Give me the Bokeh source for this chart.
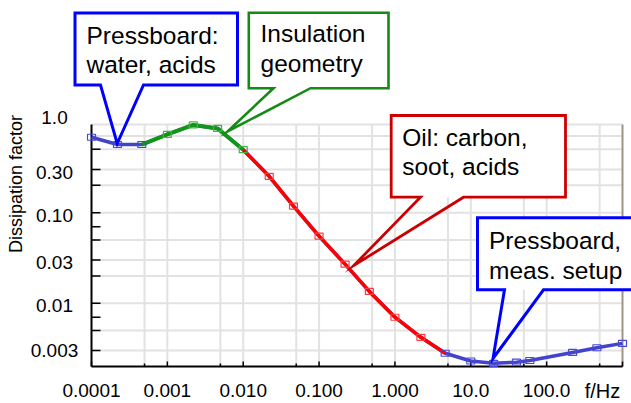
import math
from bokeh.plotting import figure
from bokeh.models import Range1d, Label, PolyAnnotation, ColumnDataSource, LogScale
from bokeh.embed import file_html
from bokeh.resources import INLINE

# ---------------- data ----------------
freq_hz = [1e-4, 2.2e-4, 4.6e-4, 1e-3, 2.2e-3, 4.6e-3, 1e-2, 2.2e-2, 4.6e-2, 0.1, 0.22,
           0.46, 1.0, 2.2, 4.6, 10.0, 20.0, 40.0, 60.0, 220.0, 460.0, 1000.0]
diss_factor = [0.68, 0.565, 0.565, 0.73, 0.93, 0.85, 0.495, 0.252, 0.118, 0.055, 0.027,
               0.0135, 0.007, 0.0042, 0.0028, 0.0023, 0.00217, 0.00223, 0.00233, 0.00286,
               0.00322, 0.0036]
# which physical effect dominates each point
region = ["pressboard"] * 3 + ["geometry"] * 4 + ["oil"] * 7 + ["pressboard"] * 8
geometry_idx = (2, 6)   # green segment, first/last point index
oil_idx = (6, 14)       # red segment, first/last point index

x_tick_values = [1e-4, 1e-3, 1e-2, 0.1, 1.0, 10.0, 100.0]
x_tick_text = ["0.0001", "0.001", "0.010", "0.100", "1.000", "10.0", "100.0"]
x_major_ticks = [1e-4, 1e-3, 1e-2, 0.1, 1.0, 10.0, 100.0, 1000.0]
x_minor_ticks = [5e-4, 5e-3, 5e-2, 0.5, 5.0, 50.0, 500.0]
y_tick_values = [1.0, 0.3, 0.1, 0.03, 0.01, 0.003]
y_tick_text = ["1.0", "0.30", "0.10", "0.03", "0.01", "0.003"]
y_tick_marks = [0.5, 0.3, 0.2, 0.1, 0.07, 0.05, 0.03, 0.02, 0.01, 0.007, 0.005, 0.003]
y_grid_values = [0.7, 0.5, 0.3, 0.2, 0.1, 0.05, 0.03, 0.02, 0.01, 0.005, 0.003]
x_grid_values = [5e-4, 1e-3, 5e-3, 1e-2, 5e-2, 0.1, 0.5, 1.0, 5.0, 10.0, 50.0, 100.0, 500.0]

callouts = [
    ("Pressboard:", "water, acids"),
    ("Insulation", "geometry"),
    ("Oil: carbon,", "soot, acids"),
    ("Pressboard,", "meas. setup"),
]

# ---------------- layout / styles ----------------
X0, X1 = 1e-4, 1000.0          # axis extent of the data area
Y0, Y1 = 0.002, 0.94
W, H = 631, 403
FL, FT, FR, FB = 91, 124, 622, 366          # data area in page px
FONT = "Liberation Sans"
MID = 0.35                                   # baseline -> em-box middle, in em

def xd(px):
    return 10 ** (math.log10(X0) + (px - FL) / (FR - FL) * (math.log10(X1) - math.log10(X0)))

def yd(py):
    return 10 ** (math.log10(Y1) - (py - FT) / (FB - FT) * (math.log10(Y1) - math.log10(Y0)))

def text_at(x, baseline_px, text, size, align="left"):
    """Label whose alphabetic baseline sits at baseline_px (page px)."""
    return Label(x=x, y=yd(baseline_px - MID * size), text=text, text_font=FONT,
                 text_font_size=f"{size}px", text_color="black",
                 text_align=align, text_baseline="middle")

# the frame covers the whole canvas so that callouts and texts outside the data area show
p = figure(width=W, height=H, x_axis_type="log", y_axis_type="log",
           x_range=Range1d(xd(0), xd(W)), y_range=Range1d(yd(H), yd(0)),
           x_axis_location=None, y_axis_location=None,
           output_backend="svg", toolbar_location=None,
           min_border=0, min_border_left=0, min_border_right=0,
           min_border_top=0, min_border_bottom=0)
p.x_scale = LogScale()
p.y_scale = LogScale()
p.outline_line_color = None
p.background_fill_color = "white"
p.border_fill_color = "white"
p.grid.visible = False

GRID = "#e2e2e2"
# grid lines
p.segment(x0=x_grid_values, y0=[Y0] * len(x_grid_values), x1=x_grid_values,
          y1=[Y1] * len(x_grid_values), line_color=GRID, line_width=2)
p.segment(x0=[X0] * len(y_grid_values), y0=y_grid_values, x1=[X1] * len(y_grid_values),
          y1=y_grid_values, line_color=GRID, line_width=2)
p.segment(x0=[X0], y0=[Y1], x1=[X1], y1=[Y1], line_color=GRID, line_width=2)

# axis lines and tick marks
p.segment(x0=[X1], y0=[Y0], x1=[X1], y1=[Y1], line_color="#a09484", line_width=2)
p.segment(x0=[X0] * len(y_tick_marks), y0=y_tick_marks, x1=[xd(FL + 9)] * len(y_tick_marks),
          y1=y_tick_marks, line_color="black", line_width=1.5)
p.segment(x0=x_major_ticks, y0=[Y0] * len(x_major_ticks), x1=x_major_ticks,
          y1=[yd(FB - 5)] * len(x_major_ticks), line_color="black", line_width=1.5)
p.segment(x0=x_minor_ticks, y0=[Y0] * len(x_minor_ticks), x1=x_minor_ticks,
          y1=[yd(FB - 3)] * len(x_minor_ticks), line_color="black", line_width=1.5)
p.segment(x0=[X0, X0], y0=[Y0, Y0], x1=[X0, X1], y1=[Y1, Y0], line_color="black",
          line_width=2)

# curves
BLUE_LINE = "#4343cc"
GREEN_LINE = "#12961a"
RED_LINE = "#ff0000"
p.line(freq_hz, diss_factor, line_color=BLUE_LINE, line_width=3.5, line_join="round")
g0, g1 = geometry_idx
p.line(freq_hz[g0:g1 + 1], diss_factor[g0:g1 + 1], line_color=GREEN_LINE, line_width=4,
       line_join="round")
o0, o1 = oil_idx
p.line(freq_hz[o0:o1 + 1], diss_factor[o0:o1 + 1], line_color=RED_LINE, line_width=3.5,
       line_join="round")

marker_colors = {"pressboard": "#4646d8", "geometry": "#46b046", "oil": "#ff3c3c"}
src = ColumnDataSource(dict(f=freq_hz, d=diss_factor, c=[marker_colors[r] for r in region]))
p.rect(x="f", y="d", width=8, height=6, width_units="screen", height_units="screen",
       source=src, fill_color=None, line_color="c", line_width=1.2)

# callouts (page px geometry): box, pointer base, tip, colour, width, text x, baselines
callout_geo = [
    ((74.5, 12.5, 237, 84.5), (100, 143), (116.7, 143), "#0000ff", 3, 86, (43.3, 72.7)),
    ((248.3, 12.3, 388, 87.7), (273, 310), (227, 131), "#158a15", 2.6, 260, (42, 71.7)),
    ((390.7, 115, 565, 196.7), (420, 463), (353.3, 265), "#cc0000", 2.8, 401.7, (145.7, 175)),
    ((477, 217.3, 645, 289.3), (504, 543), (492.5, 358), "#0000ff", 3, 488.5, (248.3, 278.3)),
]
for (lines, (box, base, tip, col, lw, tx, bls)) in zip(callouts, callout_geo):
    x0, y0, x1, y1 = box
    p.add_layout(PolyAnnotation(xs=[xd(x0), xd(x1), xd(x1), xd(x0)],
                                ys=[yd(y0), yd(y0), yd(y1), yd(y1)],
                                fill_color="white", fill_alpha=1, line_alpha=0))
    bl, br = base
    xs = [bl, x0, x0, x1, x1, br, tip[0]]
    ys = [y1, y1, y0, y0, y1, y1, tip[1]]
    p.add_layout(PolyAnnotation(xs=[xd(v) for v in xs], ys=[yd(v) for v in ys],
                                fill_alpha=0, line_color=col, line_alpha=1, line_width=lw,
                                line_join="miter"))
for (lines, (box, base, tip, col, lw, tx, bls)) in zip(callouts, callout_geo):
    for txt, bl_y in zip(lines, bls):
        p.add_layout(text_at(xd(tx), bl_y, txt, 24.5))

# tick labels and axis titles
for v, t in zip(x_tick_values, x_tick_text):
    p.add_layout(text_at(v, 397, t, 19, "center"))
p.add_layout(text_at(xd(602), 397, "f/Hz", 20, "center"))
y_label_baselines = [124, 178.3, 221.7, 268.3, 311.7, 356.7]
for t, by in zip(y_tick_text, y_label_baselines):
    p.add_layout(text_at(xd(54), by, t, 19, "center"))
p.add_layout(Label(x=xd(15.5), y=yd(183.5), text="Dissipation factor", text_font=FONT,
                   text_font_size="18px", text_color="black", angle=math.pi / 2,
                   text_align="center", text_baseline="middle"))

open("out.html", "w").write(file_html(p, INLINE))
